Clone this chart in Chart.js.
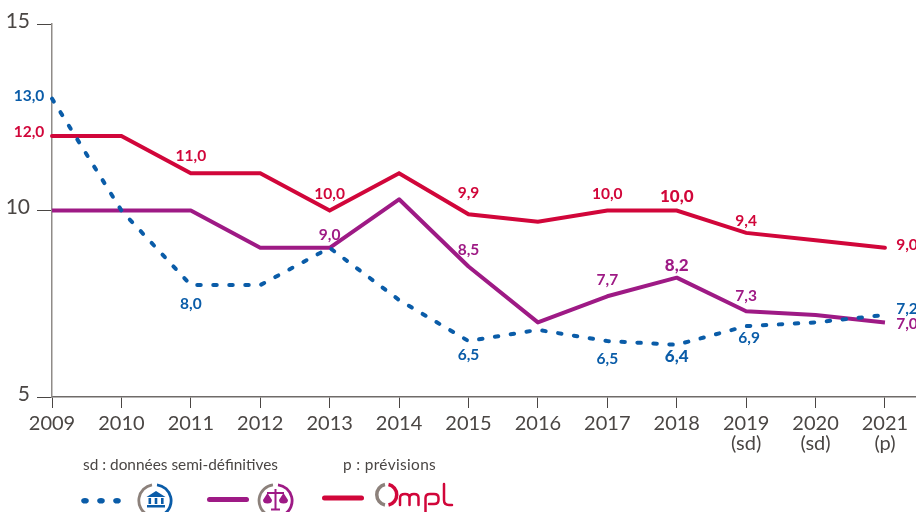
<!DOCTYPE html>
<html lang="fr">
<head>
    <meta charset="UTF-8">
    <title>Taux</title>
    <script src="https://cdn.jsdelivr.net/npm/chart.js"></script>
    <style>
        * { margin: 0; padding: 0; box-sizing: border-box; }
        body { background: #fff; width: 916px; height: 512px; overflow: hidden; position: relative; font-family: Lato, sans-serif; }
        canvas { position: absolute; left: 0; top: 0; }
        .note { position: absolute; top: 455px; font-size: 15.4px; color: #4a4644; white-space: nowrap; }
        svg { position: absolute; left: 0; top: 0; }
    </style>
</head>
<body>
    <canvas id="chart" width="916" height="512"></canvas>
    <div class="note" style="left:83px">sd : données semi-définitives</div>
    <div class="note" style="left:343px;letter-spacing:.35px">p : prévisions</div>
    <svg width="916" height="512" fill="none">
        <!-- legend samples -->
        <g fill="#0a5ca8">
            <ellipse cx="85" cy="500.700" rx="3.800" ry="2.800"/><ellipse cx="101" cy="500.700" rx="3.800" ry="2.800"/><ellipse cx="117" cy="500.700" rx="3.800" ry="2.800"/>
        </g>
        <line x1="209.500" y1="499.500" x2="246.500" y2="499.500" stroke="#9e1a85" stroke-width="5" stroke-linecap="round"/>
        <line x1="324.500" y1="498" x2="361.500" y2="498" stroke="#d1063a" stroke-width="5" stroke-linecap="round"/>
        <!-- institution icon -->
        <path d="M152 484.800 A16 16 0 0 0 147 514.500" stroke="#8c817b" stroke-width="2.800"/>
        <path d="M157 484.800 A16 16 0 0 1 164 514" stroke="#0a5ca8" stroke-width="2.800"/>
        <path d="M156 491 L165.500 497 H146.500 Z M147 505 H165 V507.500 H147 Z M148.500 498 h2.600 v6 h-2.600 Z M154.700 498 h2.600 v6 h-2.600 Z M161 498 h2.600 v6 h-2.600 Z" fill="#0a5ca8"/>
        <!-- scales icon -->
        <path d="M273 484.800 A16 16 0 0 0 267 514.500" stroke="#8c817b" stroke-width="2.800"/>
        <path d="M278 484.800 A16 16 0 0 1 285 514" stroke="#9e1a85" stroke-width="2.800"/>
        <path d="M275.500 489 V509 M271 509.500 H280 M267 493 H284" stroke="#9e1a85" stroke-width="2"/>
        <path d="M263 500 L267.500 493 L272 500 A4.500 3.500 0 0 1 263 500 Z M279 500 L283.500 493 L288 500 A4.500 3.500 0 0 1 279 500 Z" fill="#9e1a85"/>
        <!-- logo -->
        <path d="M385 484.500 A10.500 10.500 0 0 0 385 505" stroke="#8c817b" stroke-width="3.500"/>
        <path d="M388.500 484.500 A10.500 10.500 0 0 1 388.500 505" stroke="#d1063a" stroke-width="3.500"/>
        <path d="M400 505 V498 Q400 494 405 494 Q409.500 494 409.500 498 V505 M409.500 498 Q409.500 494 414 494 Q418.500 494 418.500 498 V505 M425.500 514 V498 Q425.500 494 430 494 H434 Q438.500 494 438.500 498 V500 Q438.500 504 434 504 H429 M444 484 V500 Q444 505 449 505 H452" stroke="#d1063a" stroke-width="2.500" stroke-linecap="round"/>
    </svg>

    <script>
        const years = [2009, 2010, 2011, 2012, 2013, 2014, 2015, 2016, 2017, 2018, 2019, 2020, 2021];
        const yearNotes = { 2019: '(sd)', 2020: '(sd)', 2021: '(p)' };
        const yTicks = [5, 10, 15];

        const institution = [13, 10, 8, 8, 9, 7.6, 6.5, 6.8, 6.5, 6.4, 6.9, 7.0, 7.2];
        const justice = [10, 10, 10, 9, 9, 10.3, 8.5, 7.0, 7.7, 8.2, 7.3, 7.2, 7.0];
        const ompl = [12, 12, 11, 11, 10, 11, 9.9, 9.7, 10, 10, 9.4, 9.2, 9.0];

        const BLUE = '#0a5ca8', PURPLE = '#9e1a85', RED = '#d1063a';

        // which points get a value label, and where it sits relative to the point: [year, dx, dy, bold]
        const labelSpots = [
            [[2009, -23, -3], [2011, 0, 19], [2015, 0, 14], [2017, 0, 18], [2018, 0, 12, true], [2019, 3, 12], [2021, 22, -6]],
            [[2013, 0, -13], [2015, 0, -16], [2017, 0, -16], [2018, 0, -12, true], [2019, 0, -15], [2021, 22, 2]],
            [[2009, -23, -4], [2011, 0, -17], [2013, 0, -17], [2015, 0, -21], [2017, 0, -17], [2018, 0, -14, true], [2019, 0, -12], [2021, 22, -3]]
        ];

        function toPoints(values) {
            return values.map((v, i) => ({ x: years[i], y: v }));
        }

        // value labels, drawn after the lines
        const valueLabels = {
            id: 'valueLabels',
            afterDatasetsDraw(chart) {
                const { ctx, scales } = chart;
                ctx.save();
                ctx.textAlign = 'center';
                ctx.textBaseline = 'middle';
                chart.data.datasets.forEach((ds, d) => {
                    ctx.fillStyle = ds.borderColor;
                    labelSpots[d].forEach(([year, dx, dy, bold]) => {
                        const v = ds.data[years.indexOf(year)].y;
                        ctx.font = bold ? '900 17px Lato, sans-serif' : '700 15.5px Lato, sans-serif';
                        ctx.fillText(v.toFixed(1).replace('.', ','), scales.x.getPixelForValue(year) + dx, scales.y.getPixelForValue(v) + dy);
                    });
                });
                ctx.restore();
            }
        };

        new Chart(document.getElementById('chart'), {
            type: 'line',
            data: {
                datasets: [
                    { label: 'Institution', data: toPoints(institution), borderColor: BLUE, borderWidth: 4, borderDash: [3.5, 12.5], borderCapStyle: 'round', pointRadius: 0 },
                    { label: 'Justice', data: toPoints(justice), borderColor: PURPLE, borderWidth: 4, borderJoinStyle: 'round', pointRadius: 0 },
                    { label: 'Ompl', data: toPoints(ompl), borderColor: RED, borderWidth: 4, borderCapStyle: 'round', pointRadius: 0 }
                ]
            },
            plugins: [valueLabels],
            options: {
                responsive: false,
                animation: false,
                clip: false,
                layout: { padding: { top: 24, left: 0, right: 0, bottom: 0 } },
                plugins: { legend: { display: false }, tooltip: { enabled: false } },
                scales: {
                    x: {
                        type: 'linear',
                        min: 2009,
                        max: 2021.447,
                        afterFit: s => { s.height = 115; },
                        afterBuildTicks: s => { s.ticks = years.map(y => ({ value: y })); },
                        border: { color: '#6f6b69', width: 1.5 },
                        grid: { drawOnChartArea: false, tickLength: 11, tickColor: '#4a4644', tickWidth: 1 },
                        ticks: {
                            autoSkip: false,
                            maxRotation: 0,
                            padding: 6,
                            color: '#4a4644',
                            font: { family: 'Lato', size: 20, weight: '400', lineHeight: 1 },
                            callback: v => yearNotes[v] ? [String(v), yearNotes[v]] : String(v)
                        }
                    },
                    y: {
                        min: 5,
                        max: 15,
                        afterFit: s => { s.width = 52; },
                        afterBuildTicks: s => { s.ticks = yTicks.map(v => ({ value: v })); },
                        border: { color: '#8f8b88', width: 1.5 },
                        grid: { drawOnChartArea: false, tickLength: 15, tickColor: '#4a4644', tickWidth: 1 },
                        ticks: { padding: 7, labelOffset: -3, color: '#4a4644', font: { family: 'Lato', size: 21, weight: '400' } }
                    }
                }
            }
        });
    </script>
</body>
</html>
